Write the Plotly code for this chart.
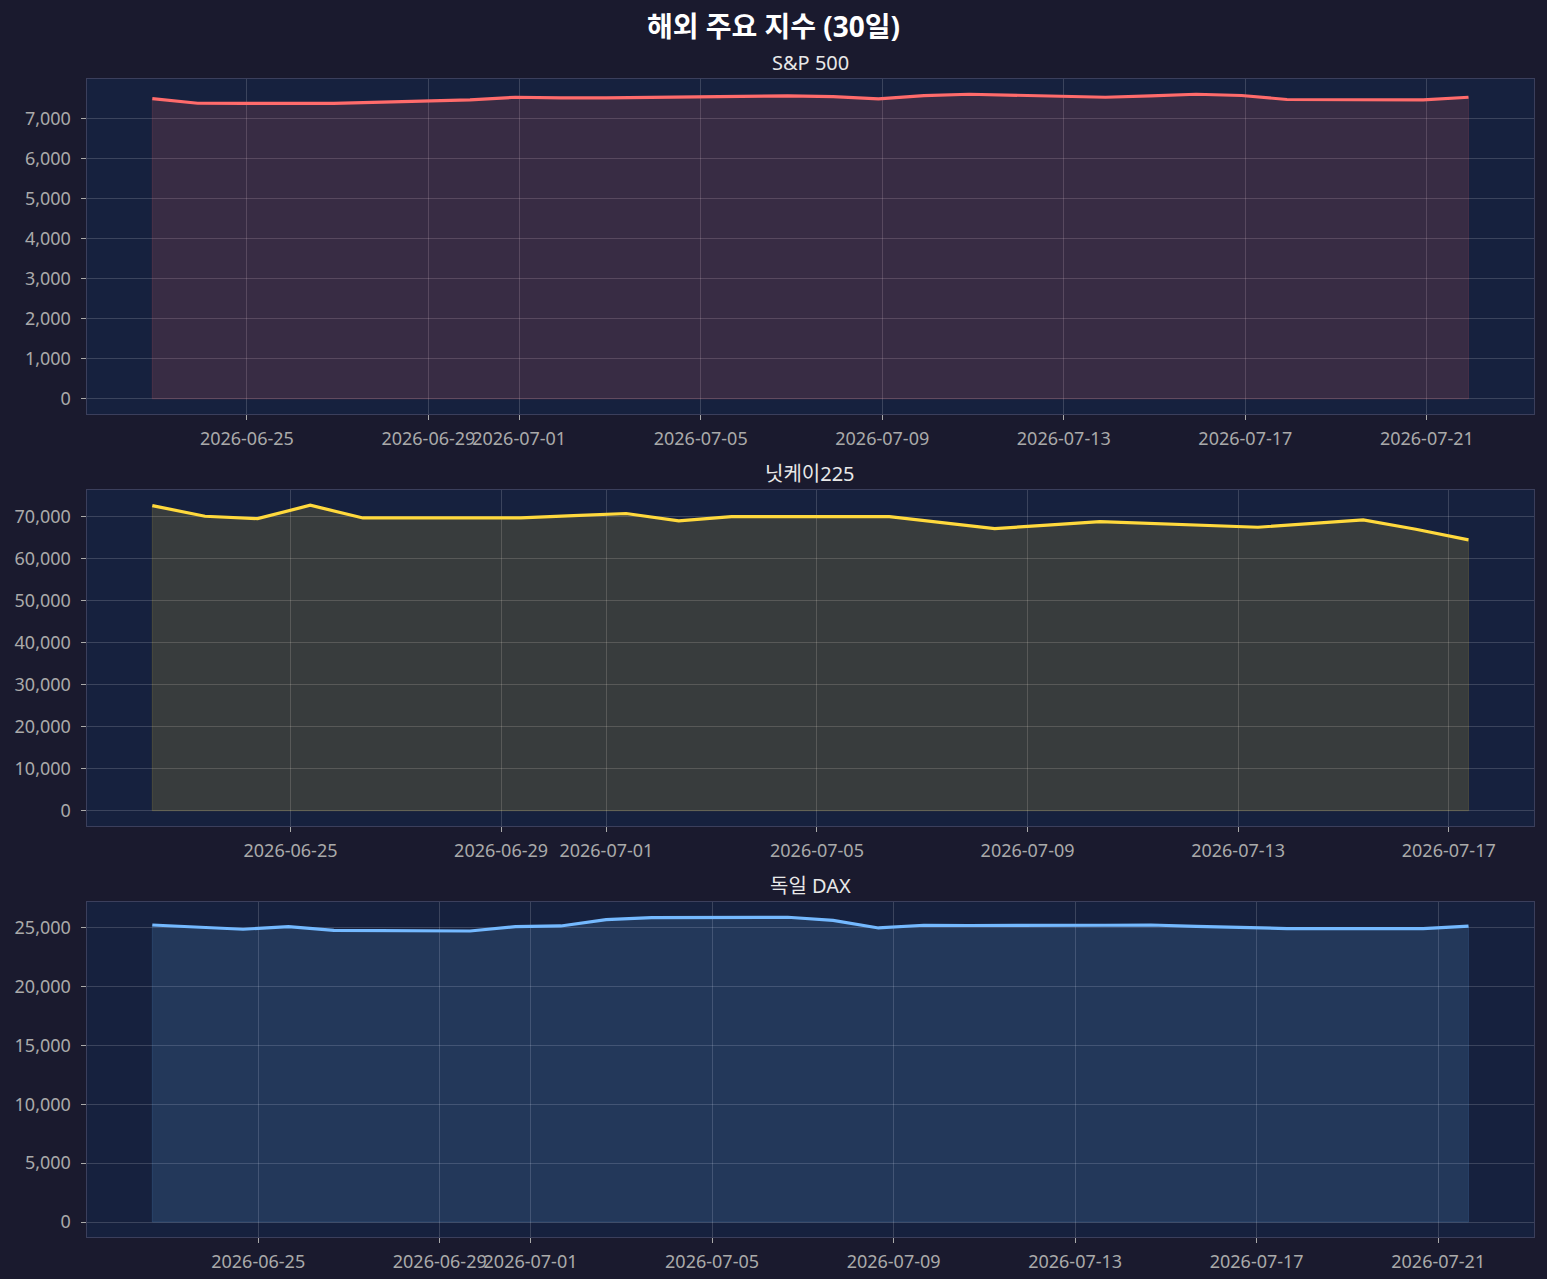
import pandas as pd
import plotly.graph_objects as go

# close timestamps (UTC) and closing levels
SP_DATES = ["2026-06-22", "2026-06-23", "2026-06-24", "2026-06-25", "2026-06-26",
            "2026-06-29", "2026-06-30", "2026-07-01", "2026-07-02",
            "2026-07-06", "2026-07-07", "2026-07-08", "2026-07-09", "2026-07-10",
            "2026-07-13", "2026-07-14", "2026-07-15", "2026-07-16", "2026-07-17",
            "2026-07-20", "2026-07-21"]
SP_VALUES = [7500, 7385, 7382, 7380, 7382,
             7470, 7535, 7520, 7520,
             7570, 7550, 7496, 7575, 7610,
             7535, 7570, 7610, 7578, 7478,
             7470, 7535]

NK_DATES = ["2026-06-22", "2026-06-23", "2026-06-24", "2026-06-25", "2026-06-26",
            "2026-06-29", "2026-06-30", "2026-07-01", "2026-07-02", "2026-07-03",
            "2026-07-06", "2026-07-07", "2026-07-08", "2026-07-09", "2026-07-10",
            "2026-07-13", "2026-07-14", "2026-07-15", "2026-07-16", "2026-07-17"]
NK_VALUES = [72520, 70000, 69430, 72610, 69600,
             69600, 70150, 70650, 68900, 69900,
             69900, 68480, 67060, 67900, 68720,
             67390, 68250, 69130, 66900, 64380]

DAX_DATES = ["2026-06-22", "2026-06-23", "2026-06-24", "2026-06-25", "2026-06-26",
             "2026-06-29", "2026-06-30", "2026-07-01", "2026-07-02", "2026-07-03",
             "2026-07-06", "2026-07-07", "2026-07-08", "2026-07-09", "2026-07-10",
             "2026-07-13", "2026-07-14", "2026-07-15", "2026-07-16", "2026-07-17",
             "2026-07-20", "2026-07-21"]
DAX_VALUES = [25220, 25020, 24860, 25085, 24770,
              24713, 25085, 25140, 25680, 25850,
              25880, 25620, 24970, 25200, 25180,
              25200, 25220, 25100, 25000, 24920,
              24920, 25130]

# hour of the close stamp in UTC (18:00 local)
SP_HOUR, NK_HOUR, DAX_HOUR = 22, 9, 16

TITLES = ["S&P 500", "닛케이225", "독일 DAX"]
COLORS = ["#ff6b6b", "#ffd93d", "#74b9ff"]
Y_STEPS = [1000, 10000, 5000]
X_TICKS = [["2026-06-25", "2026-06-29", "2026-07-01", "2026-07-05", "2026-07-09",
            "2026-07-13", "2026-07-17", "2026-07-21"],
           ["2026-06-25", "2026-06-29", "2026-07-01", "2026-07-05", "2026-07-09",
            "2026-07-13", "2026-07-17"],
           ["2026-06-25", "2026-06-29", "2026-07-01", "2026-07-05", "2026-07-09",
            "2026-07-13", "2026-07-17", "2026-07-21"]]

FIG_BG = "#1a1a2e"
AX_BG = "#16213e"
FONT = "Noto Sans, Noto Sans CJK KR"
W, H = 1547, 1279

# panel boxes in pixels (top, bottom)
X_DOM = [86.5 / W, 1534.3 / W]
PANELS = [(79, 414), (490, 826), (902, 1237.3)]


def rgba(hex_color, a):
    h = hex_color.lstrip("#")
    r, g, b = int(h[0:2], 16), int(h[2:4], 16), int(h[4:6], 16)
    return f"rgba({r},{g},{b},{a})"


def pad_range(lo, hi, frac=0.05):
    span = hi - lo
    return [lo - span * frac, hi + span * frac]


fig = go.Figure()

series = [(SP_DATES, SP_VALUES, SP_HOUR), (NK_DATES, NK_VALUES, NK_HOUR),
          (DAX_DATES, DAX_VALUES, DAX_HOUR)]

for i, (dates, values, hour) in enumerate(series):
    n = "" if i == 0 else str(i + 1)
    color = COLORS[i]
    ts = pd.to_datetime(dates) + pd.Timedelta(hours=hour)
    xs = list(ts)

    # shaded area down to zero (with faint edge like fill_between)
    fig.add_trace(go.Scatter(
        x=xs + [xs[-1], xs[0], xs[0]],
        y=list(values) + [0, 0, values[0]],
        mode="lines", fill="toself",
        fillcolor=rgba(color, 0.15),
        line=dict(color=rgba(color, 0.15), width=1),
        xaxis="x" + n, yaxis="y" + n, hoverinfo="skip", showlegend=False))

    fig.add_trace(go.Scatter(
        x=xs, y=values, mode="lines",
        line=dict(color=color, width=3.2),
        xaxis="x" + n, yaxis="y" + n, name=TITLES[i], showlegend=False))

    top, bot = PANELS[i]
    y_dom = [1 - bot / H, 1 - top / H]

    xr = pad_range(ts.min(), ts.max())
    yr = pad_range(0, max(values))

    axis_common = dict(
        showline=True, linecolor="#3b3f5c", linewidth=1, mirror=True,
        showgrid=True, gridcolor="rgba(255,255,255,0.16)", gridwidth=1,
        zeroline=False, ticks="outside", ticklen=5, tickcolor="#aaaaaa",
        tickfont=dict(family=FONT, size=18, color="#aaaaaa"),
        automargin=False,
    )

    fig.update_layout(**{
        "xaxis" + n: dict(
            axis_common, domain=X_DOM, anchor="y" + n, type="date",
            range=[xr[0].strftime("%Y-%m-%d %H:%M:%S"), xr[1].strftime("%Y-%m-%d %H:%M:%S")],
            tickmode="array", tickvals=X_TICKS[i], tickformat="%Y-%m-%d",
            tickangle=0, ticklabelstandoff=3),
        "yaxis" + n: dict(
            axis_common, domain=y_dom, anchor="x" + n, range=yr,
            tick0=0, dtick=Y_STEPS[i], tickformat=",d", ticklabelstandoff=6),
    })

    fig.add_annotation(
        text=TITLES[i], xref="paper", yref="paper",
        x=(X_DOM[0] + X_DOM[1]) / 2, y=y_dom[1], yanchor="bottom", yshift=1,
        showarrow=False, font=dict(family=FONT, size=20, color="#e8e8e8"))

fig.update_layout(
    width=W, height=H,
    margin=dict(l=0, r=0, t=0, b=0),
    paper_bgcolor=FIG_BG, plot_bgcolor=AX_BG,
    title=dict(text="<b>해외 주요 지수 (30일)</b>", x=0.5, xanchor="center",
               y=1 - 27 / H, yanchor="middle",
               font=dict(family=FONT, size=28, color="#ffffff")),
    showlegend=False,
)

fig.write_html("out.html", config={"displayModeBar": False},
               post_script="document.body.style.margin='0';")
